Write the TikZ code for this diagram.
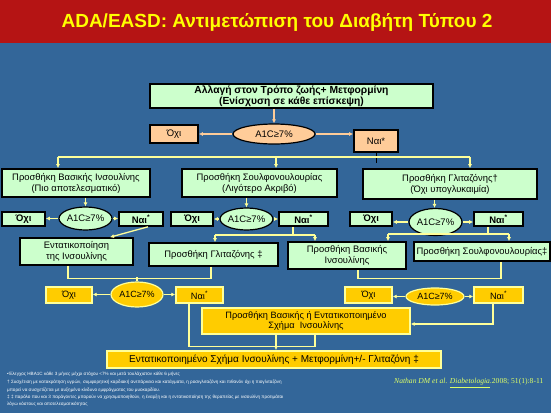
\documentclass[tikz,border=0pt]{standalone}
\usepackage{fontspec}
\setmainfont{Liberation Sans}
\newfontfamily\citefont{Liberation Serif}
\usepackage{tikz}
\usetikzlibrary{arrows.meta,shapes}
\tikzset{>={Latex[width=4pt,length=4pt]}}

\definecolor{bgblue}{RGB}{51,102,153}
\definecolor{titlered}{RGB}{181,20,20}
\definecolor{titleyellow}{RGB}{255,255,0}
\definecolor{boxgreen}{RGB}{204,255,204}
\definecolor{peach}{RGB}{255,204,153}
\definecolor{gold}{RGB}{255,204,0}
\definecolor{lineyellow}{RGB}{255,255,153}
\definecolor{citeyellow}{RGB}{221,255,102}

\tikzset{
  greenbox/.style={draw=black, line width=1.6pt, fill=boxgreen, inner sep=0pt, align=center, font=\fontsize{9.4}{11}\selectfont},
  peachbox/.style={draw=black, line width=1.6pt, fill=peach, inner sep=0pt, align=center, font=\fontsize{9.5}{10}\selectfont},
  goldbox/.style={draw=lineyellow, line width=1.4pt, fill=gold, inner sep=0pt, align=center, font=\fontsize{9.2}{10.5}\selectfont},
  greentest/.style={ellipse, draw=black, line width=1.2pt, fill=boxgreen, inner sep=0pt, font=\fontsize{9.5}{10}\selectfont},
  peachtest/.style={ellipse, draw=black, line width=1.2pt, fill=peach, inner sep=0pt, font=\fontsize{9.5}{10}\selectfont},
  goldtest/.style={ellipse, draw=lineyellow, line width=1.2pt, fill=gold, inner sep=0pt, font=\fontsize{9}{10}\selectfont},
  answer/.style={font=\bfseries\fontsize{9.5}{10}\selectfont},
  yline/.style={draw=lineyellow, line width=1.3pt},
  pline/.style={draw=peach, line width=1.3pt},
  note/.style={text=white, anchor=west, inner sep=0pt, font=\fontsize{4.6}{5}\selectfont},
}

\begin{document}
\begin{tikzpicture}[x=1pt,y=-1pt]

  \useasboundingbox (0,0) rectangle (551,413);
  \fill[bgblue] (0,0) rectangle (551,413);
  \fill[titlered] (0,0) rectangle (551,43);
  \node[text=titleyellow, font=\bfseries\fontsize{19}{22}\selectfont] (title) at (277,22) {ADA/EASD: Αντιμετώπιση του Διαβήτη Τύπου 2};

  %% first step
  \node[greenbox, minimum width=283pt, minimum height=24pt, font=\bfseries\fontsize{10.3}{10.5}\selectfont] (life) at (291.5,96) {Αλλαγή στον Τρόπο ζωής+ Μετφορμίνη\\(Ενίσχυση σε κάθε επίσκεψη)};
  \node[peachtest, minimum width=82pt, minimum height=20pt] (test0) at (274,134) {A1C≥7\%};
  \node[peachbox, minimum width=48pt, minimum height=18pt] (no0) at (174,134) {Όχι};
  \node[peachbox, minimum width=44pt, minimum height=22pt] (yes0) at (376,141) {Ναι*};

  \draw[pline,->] (test0.north |- life.south) -- (test0.north);
  \draw[pline,->] (test0.west) -- (no0.east);
  \draw[pline,->] (test0.east) -- (yes0.west |- test0.east);
  \draw[black, line width=0.8pt] (yes0.south) -- ++(0,10);

  %% three choices
  \node[greenbox, minimum width=148pt, minimum height=28pt] (basal) at (76,183) {Προσθήκη Βασικής Ινσουλίνης\\(Πιο αποτελεσματικό)};
  \node[greenbox, minimum width=155pt, minimum height=28pt] (sulf) at (259.5,183) {Προσθήκη Σουλφονουλουρίας\\(Λιγότερο Ακριβό)};
  \node[greenbox, minimum width=174pt, minimum height=30pt] (glit) at (450,184) {Προσθήκη Γλιταζόνης†\\(Όχι υπογλυκαιμία)};

  \coordinate (bar0L) at (58,157);
  \coordinate (bar0M) at (276,157);
  \coordinate (bar0R) at (470,157);
  \draw[yline] (bar0L) -- (bar0R);
  \draw[yline,->] (bar0L) -- (bar0L |- basal.north);
  \draw[yline,->] (bar0M) -- (bar0M |- sulf.north);
  \draw[yline,->] (bar0R) -- (bar0R |- glit.north);

  %% second test
  \node[greenbox, answer, minimum width=43pt, minimum height=14pt] (no1) at (23.5,219) {Όχι};
  \node[greentest, minimum width=53pt, minimum height=23pt] (test1) at (85.5,218.5) {A1C≥7\%};
  \node[greenbox, answer, minimum width=44pt, minimum height=14pt] (yes1) at (141,219) {Ναι\textsuperscript{*}};

  \node[greenbox, answer, minimum width=42pt, minimum height=14pt] (no2) at (192,219) {Όχι};
  \node[greentest, minimum width=47pt, minimum height=22pt] (test2) at (246.5,219) {A1C≥7\%};
  \node[greenbox, answer, minimum width=49pt, minimum height=14pt] (yes2) at (303.5,219) {Ναι\textsuperscript{*}};

  \node[greenbox, answer, minimum width=42pt, minimum height=14pt] (no3) at (371,219) {Όχι};
  \node[greentest, minimum width=53pt, minimum height=27pt] (test3) at (435.5,222) {A1C≥7\%};
  \node[greenbox, answer, minimum width=49pt, minimum height=14pt] (yes3) at (498.5,219) {Ναι\textsuperscript{*}};

  \draw[yline,->] (test1.north |- basal.south) -- (test1.north);
  \draw[yline,->] (test2.north |- sulf.south) -- (test2.north);
  \draw[yline,->] ([xshift=-1pt]test3.north |- glit.south) -- ([xshift=-1pt]test3.north);
  \foreach \t/\n/\y in {test1/no1/yes1, test2/no2/yes2, test3/no3/yes3}{
    \draw[yline,->] (\t.west) -- (\n.east |- \t.west);
    \draw[yline,->] (\t.east) -- (\y.west |- \t.east);
  }

  %% third step
  \node[greenbox, minimum width=113pt, minimum height=27pt] (intens) at (76.5,251.5) {Εντατικοποίηση\\της Ινσουλίνης};
  \node[greenbox, minimum width=129pt, minimum height=23pt] (addglit) at (213.5,254.5) {Προσθήκη Γλιταζόνης ‡};
  \node[greenbox, minimum width=118pt, minimum height=27pt] (addbasal) at (347,255.5) {Προσθήκη Βασικής\\Ινσουλίνης};
  \node[greenbox, minimum width=136pt, minimum height=19pt] (addsulf) at (482,251.5) {Προσθήκη Σουλφονουλουρίας‡};

  \draw[yline,->] ([xshift=7pt]yes1.south) -- ([xshift=33.5pt]intens.north);

  \coordinate (bar2L) at (215,235);
  \coordinate (bar2R) at (315,235);
  \draw[yline] ([xshift=-10.5pt]yes2.south) -- ([xshift=-10.5pt]yes2.south |- bar2L);
  \draw[yline] (bar2L) -- (bar2R);
  \draw[yline,->] (bar2L) -- (bar2L |- addglit.north);
  \draw[yline,->] (bar2R) -- (bar2R |- addbasal.north);

  \coordinate (bar3L) at (388,234);
  \coordinate (bar3R) at (509,234);
  \draw[yline] ([xshift=-10.5pt]yes3.south) -- ([xshift=-10.5pt]yes3.south |- bar3L);
  \draw[yline] (bar3L) -- (bar3R);
  \draw[yline,->] (bar3L) -- (bar3L |- addbasal.north);
  \draw[yline,->] (bar3R) -- (bar3R |- addsulf.north);

  %% third test
  \node[goldtest, minimum width=52pt, minimum height=25pt] (test4) at (137,294.5) {A1C≥7\%};
  \node[goldbox, minimum width=46pt, minimum height=16pt] (no4) at (69,295) {Όχι};
  \node[goldbox, minimum width=47pt, minimum height=16pt] (yes4) at (199.5,295) {Ναι\textsuperscript{*}};

  \node[goldtest, minimum width=58pt, minimum height=17pt] (test5) at (435,296.5) {A1C≥7\%};
  \node[goldbox, minimum width=47pt, minimum height=16pt] (no5) at (368.5,295) {Όχι};
  \node[goldbox, minimum width=49pt, minimum height=16pt] (yes5) at (498.5,295) {Ναι\textsuperscript{*}};

  \draw[yline] ([xshift=-8.5pt]intens.south) -- ++(0,12.5) -| ([xshift=-2.5pt]addglit.south);
  \draw[yline] (test4.north) -- ++(0,-4.5);
  \draw[yline] ([xshift=11pt]addbasal.south) -- ++(0,8.5) -| ([xshift=19pt]addsulf.south);
  \foreach \t/\n/\y in {test4/no4/yes4, test5/no5/yes5}{
    \draw[yline,->] (\t.west) -- (\n.east |- \t.west);
    \draw[yline,->] (\t.east) -- (\y.west |- \t.east);
  }

  %% last steps
  \node[goldbox, minimum width=208pt, minimum height=26pt] (insulin) at (306,321) {Προσθήκη Βασικής ή Εντατικοποιημένο\\Σχήμα\ \ Ινσουλίνης};
  \node[goldbox, line width=1.8pt, minimum width=334pt, minimum height=17pt, font=\fontsize{10}{10}\selectfont] (final) at (274,359.5) {Εντατικοποιημένο Σχήμα Ινσουλίνης + Μετφορμίνη+/- Γλιταζόνη ‡};

  \draw[yline,->] ([xshift=-5.5pt]yes5.south) |- ([yshift=-3pt]insulin.east);
  \draw[yline] ([xshift=-10.5pt]yes4.south) -- ++(0,43) -| ([xshift=9pt]insulin.south);
  \draw[yline,->] ([xshift=-30pt]insulin.south) -- ([xshift=-30pt]insulin.south |- final.north);

  %% notes
  \node[note] (note1) at (7,374) {•Έλεγχος HBA1C κάθε 3 μήνες μέχρι στόχου <7\% και μετά τουλάχιστον κάθε 6 μήνες};
  \node[note] (note2) at (7,382) {† Συσχέτιση με κατακράτηση υγρών, συμφορητική καρδιακή ανεπάρκεια και κατάγματα, η ροσιγλιταζόνη και πιθανόν όχι η πιογλιταζόνη};
  \node[note] (note3) at (7,390) {μπορεί να συσχετίζεται με αυξημένο κίνδυνο εμφράγματος του μυοκαρδίου.};
  \node[note] (note4) at (7,397) {‡ ‡ παρόλο που και 3 παράγοντες μπορούν να χρησιμοποιηθούν, η έναρξη και η εντατικοποίηση της θεραπείας με ινσουλίνη προτιμάται};
  \node[note] (note5) at (7,404) {λόγω κόστους και αποτελεσματικότητας};
  \node[anchor=west, inner sep=0pt, text=citeyellow, font=\citefont\fontsize{7.6}{8}\selectfont] (cite) at (394,383) {\textit{Nathan DM et al. \underline{Diabetologia}.}2008; 51(1):8-11};

\end{tikzpicture}
\end{document}
